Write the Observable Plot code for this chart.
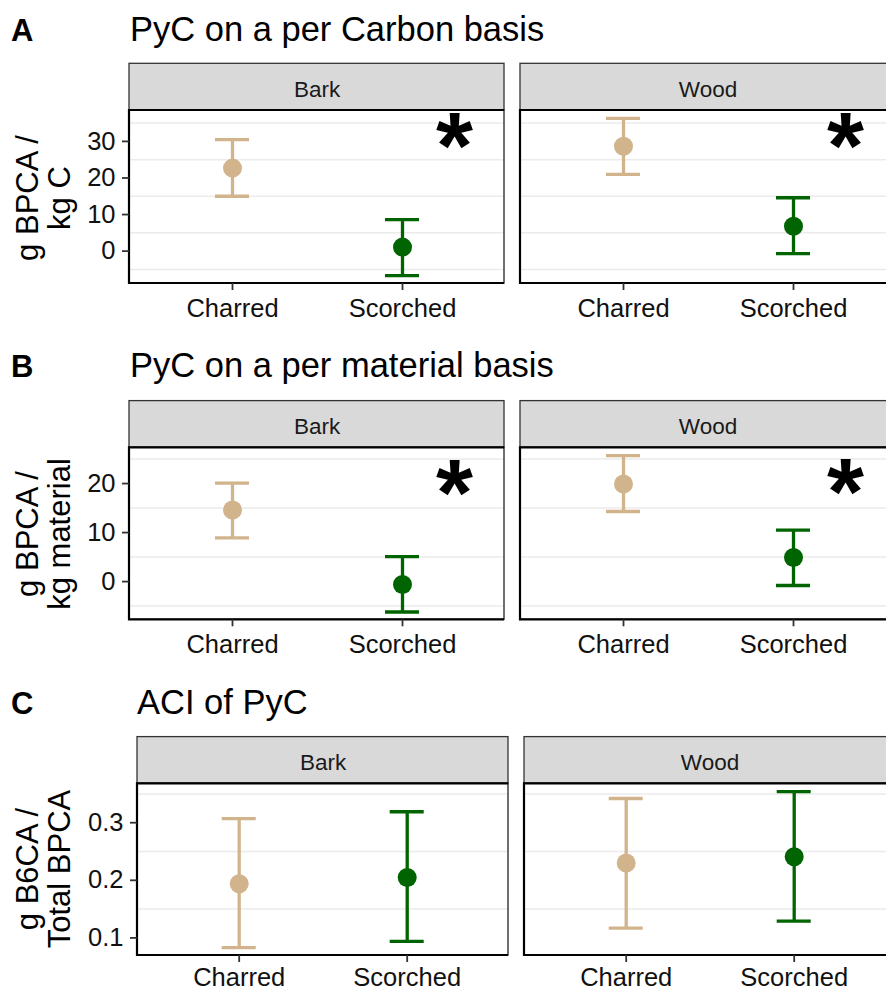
<!DOCTYPE html>
<html>
<head>
<meta charset="utf-8">
<script src="https://cdn.jsdelivr.net/npm/d3@7"></script>
<script src="https://cdn.jsdelivr.net/npm/@observablehq/plot@0.6"></script>
<style>
  html, body { margin: 0; padding: 0; background: #fff; overflow: hidden; }
  #root { position: relative; width: 886px; height: 991px; overflow: hidden; background: #fff; }
  #root > svg { position: absolute; left: 0; }
  #overlay { position: absolute; left: 0; top: 0; pointer-events: none; }
</style>
</head>
<body>
<div id="root"></div>
<script>
// ---------- data ----------
const materials = ["Bark", "Wood"];
const treatments = ["Charred", "Scorched"];
const groupMaterial = ["Bark", "Bark", "Wood", "Wood"];
const groupTreatment = ["Charred", "Scorched", "Charred", "Scorched"];

// A: PyC on a per Carbon basis (g BPCA / kg C)
const carbonMean = [22.7, 1.1, 28.7, 6.8];
const carbonLow  = [15.0, -6.7, 21.0, -0.7];
const carbonHigh = [30.5, 8.6, 36.3, 14.6];
const carbonTicks = [0, 10, 20, 30];
const carbonGrid = [-5, 5, 15, 25, 35];
const carbonStarMaterial = ["Bark", "Wood"];
const carbonStarY = [31.8, 31.9];

// B: PyC on a per material basis (g BPCA / kg material)
const materialMean = [14.6, -0.6, 19.9, 4.9];
const materialLow  = [8.9, -6.2, 14.3, -0.8];
const materialHigh = [20.1, 5.1, 25.7, 10.5];
const materialTicks = [0, 10, 20];
const materialGrid = [-5, 5, 15, 25];
const materialStarMaterial = ["Bark", "Wood"];
const materialStarY = [20.4, 20.6];

// C: ACI of PyC (g B6CA / Total BPCA)
const aciMean = [0.194, 0.205, 0.230, 0.241];
const aciLow  = [0.083, 0.094, 0.117, 0.129];
const aciHigh = [0.307, 0.319, 0.342, 0.354];
const aciTicks = [0.1, 0.2, 0.3];
const aciGrid = [0.15, 0.25, 0.35];
const aciStarMaterial = [];
const aciStarY = [];

const treatmentColors = ["#D2B48C", "#006400"];

// ---------- helpers ----------
const FONT = '"Liberation Sans", Arial, Helvetica, sans-serif';
const STRIP_H = 46.7;

function rowsFrom(mean, low, high) {
  return groupMaterial.map((m, i) => ({material: m, treatment: groupTreatment[i], mean: mean[i], low: low[i], high: high[i]}));
}
function starsFrom(mats, ys) {
  return mats.map((m, i) => ({material: m, treatment: "Scorched", y: ys[i]}));
}
function expandDomain(rows) {
  const lo = d3.min(rows, d => d.low), hi = d3.max(rows, d => d.high);
  const pad = (hi - lo) * 0.05;
  return [lo - pad, hi + pad];
}

function stripMark(index, scales, values, dims) {
  const {marginTop: t, marginLeft: l, marginRight: r, width: w} = dims;
  const g = d3.create("svg:g");
  g.append("rect")
    .attr("x", l).attr("y", t - STRIP_H)
    .attr("width", w - l - r).attr("height", STRIP_H)
    .attr("fill", "#d9d9d9").attr("stroke", "#333").attr("stroke-width", 1.3);
  return g.node();
}
function borderMark(index, scales, values, dims) {
  const {marginTop: t, marginLeft: l, marginRight: r, marginBottom: b, width: w, height: h} = dims;
  const g = d3.create("svg:g").attr("fill", "none");
  g.append("rect").attr("x", l).attr("y", t).attr("width", w - l - r).attr("height", h - t - b)
    .attr("stroke", "#333").attr("stroke-width", 1.4);
  g.append("path").attr("d", `M${w - r},${t}H${l}V${h - b}H${w - r}`)
    .attr("stroke", "#000").attr("stroke-width", 2.2);
  return g.node();
}

function panel({rows, ticks, grid, stars, marginLeft, height, marginTop, marginBottom, top, xPad = 8}) {
  const chart = Plot.plot({
    width: 896,
    height,
    marginTop,
    marginBottom,
    marginLeft,
    marginRight: 0,
    style: {fontFamily: FONT, background: "transparent", maxWidth: "none", overflow: "visible"},
    fx: {domain: materials, paddingInner: 15.7 / ((896 - marginLeft + 15.7) / 2), paddingOuter: 0, label: null},
    // band centres at 0.273 / 0.727 of the panel; bandwidth = error-bar cap width
    x: {type: "band", domain: treatments, paddingInner: 0.8, paddingOuter: 0.5, label: null},
    y: {domain: expandDomain(rows), label: null},
    color: {domain: treatments, range: treatmentColors},
    marks: [
      stripMark,
      Plot.gridY(grid, {stroke: "#ebebeb", strokeOpacity: 1, strokeWidth: 1.5}),
      Plot.ruleX(rows, {fx: "material", x: "treatment", y1: "low", y2: "high", stroke: "treatment", strokeWidth: 3.3}),
      Plot.tickY(rows, {fx: "material", x: "treatment", y: "low", stroke: "treatment", strokeWidth: 3.3}),
      Plot.tickY(rows, {fx: "material", x: "treatment", y: "high", stroke: "treatment", strokeWidth: 3.3}),
      Plot.dot(rows, {fx: "material", x: "treatment", y: "mean", fill: "treatment", r: 9.5}),
      Plot.text(stars, {fx: "material", x: "treatment", y: "y", text: () => "*", dx: 52, dy: 13, fontSize: 95, fontWeight: "bold", fill: "#000"}),
      borderMark,
      Plot.axisFx({anchor: "top", tickSize: 0, tickPadding: 13.5, fontSize: 22.5, fill: "#1a1a1a", label: null}),
      Plot.axisY({ticks, tickFormat: d => String(d), tickSize: 7, tickPadding: 7, fontSize: 25.5, stroke: "#333", strokeWidth: 1.8, fill: "#111", label: null}),
      Plot.axisX({tickSize: 7, tickPadding: xPad, fontSize: 25.5, stroke: "#333", strokeWidth: 1.8, fill: "#111", label: null})
    ]
  });
  chart.style.top = top + "px";
  return chart;
}

const root = document.getElementById("root");

root.appendChild(panel({
  rows: rowsFrom(carbonMean, carbonLow, carbonHigh), ticks: carbonTicks, grid: carbonGrid,
  stars: starsFrom(carbonStarMaterial, carbonStarY),
  marginLeft: 129, top: 55, height: 281, marginTop: 55, marginBottom: 53
}));
root.appendChild(panel({
  rows: rowsFrom(materialMean, materialLow, materialHigh), ticks: materialTicks, grid: materialGrid,
  stars: starsFrom(materialStarMaterial, materialStarY),
  marginLeft: 129, top: 392, height: 280, marginTop: 55.3, marginBottom: 52.7
}));
root.appendChild(panel({
  rows: rowsFrom(aciMean, aciLow, aciHigh), ticks: aciTicks, grid: aciGrid,
  stars: starsFrom(aciStarMaterial, aciStarY),
  marginLeft: 136.3, top: 728, height: 263, marginTop: 55.3, marginBottom: 36, xPad: 5
}));

// ---------- titles, panel tags and y-axis titles ----------
const headers = [
  {tag: "A", title: "PyC on a per Carbon basis", baseline: 41, titleX: 130, yLines: ["g BPCA /", "kg C"], yCenter: 198},
  {tag: "B", title: "PyC on a per material basis", baseline: 377, titleX: 130, yLines: ["g BPCA /", "kg material"], yCenter: 534},
  {tag: "C", title: "ACI of PyC", baseline: 713.5, titleX: 137, yLines: ["g B6CA /", "Total BPCA"], yCenter: 869}
];
const overlay = d3.select(root).append("svg").attr("id", "overlay")
  .attr("width", 886).attr("height", 991)
  .style("font-family", FONT);
for (const h of headers) {
  overlay.append("text").attr("x", 11).attr("y", h.baseline)
    .attr("font-size", 31).attr("font-weight", "bold").attr("fill", "#000").text(h.tag);
  overlay.append("text").attr("x", h.titleX).attr("y", h.baseline)
    .attr("font-size", 34.5).attr("fill", "#000").text(h.title);
  h.yLines.forEach((line, i) => {
    overlay.append("text")
      .attr("transform", `translate(${i === 0 ? 37.5 : 70},${h.yCenter}) rotate(-90)`)
      .attr("text-anchor", "middle").attr("font-size", 31).attr("fill", "#000")
      .text(line);
  });
}
</script>
</body>
</html>
